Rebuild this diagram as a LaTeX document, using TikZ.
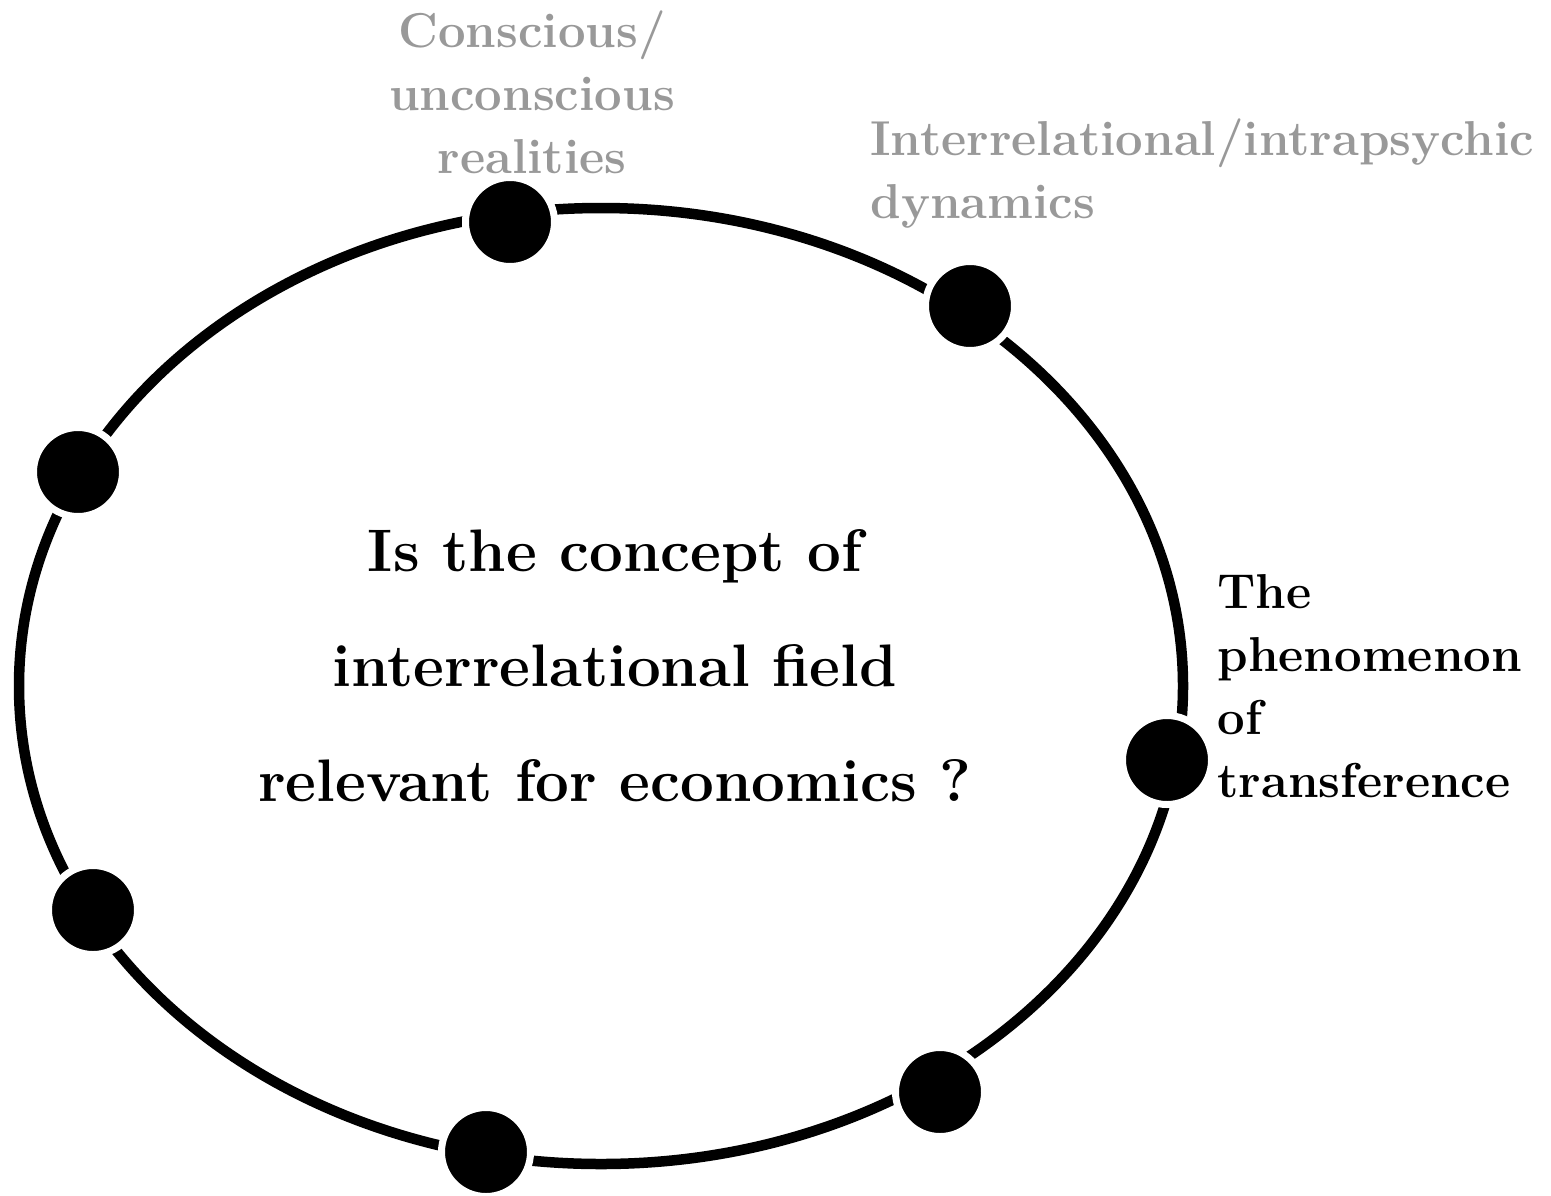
\documentclass[tikz,border=0pt]{standalone}
\usepackage{xcolor}
\usetikzlibrary{positioning}
\definecolor{labelgray}{RGB}{153,153,153}
\tikzset{
    fielddot/.style={circle, fill=black, draw=white, line width=3.5pt, minimum size=44.5pt, inner sep=0pt},
    sidelabel/.style={font=\bfseries\fontsize{24.5}{31.5}\selectfont, inner sep=0pt},
}

\begin{document}
\begin{tikzpicture}[x=0.5pt, y=-0.5pt]
    \useasboundingbox (0,0) rectangle (1551,1195);

    % Interrelational field
    \draw[line width=5.25pt] (601,686) ellipse [x radius=582, y radius=478];

    % Dots on the field
    \node[fielddot] (dotconscious) at (510,222) {};
    \node[fielddot] (dotdynamics) at (970,306) {};
    \node[fielddot] (dotleftup) at (78,472) {};
    \node[fielddot] (dottransfer) at (1167,760) {};
    \node[fielddot] (dotleftdown) at (93,910) {};
    \node[fielddot] (dotrightdown) at (940,1092) {};
    \node[fielddot] (dotbottom) at (486,1152) {};

    % Labels
    \node[sidelabel, text=labelgray, align=center] (conscious) at (532,92)
        {Conscious/\\unconscious\\realities};
    \node[sidelabel, text=labelgray, align=left, anchor=west] (dynamics) at (870,174)
        {Interrelational/intrapsychic\\dynamics};
    \node[sidelabel, align=left, anchor=west] (transfer) at (1217,686)
        {The\\phenomenon\\of\\transference};

    % Question
    \node[font=\bfseries\fontsize{30}{57.5}\selectfont, align=center, inner sep=0pt] (question) at (615,666)
        {Is the concept of\\interrelational field\\relevant for economics ?};
\end{tikzpicture}
\end{document}
